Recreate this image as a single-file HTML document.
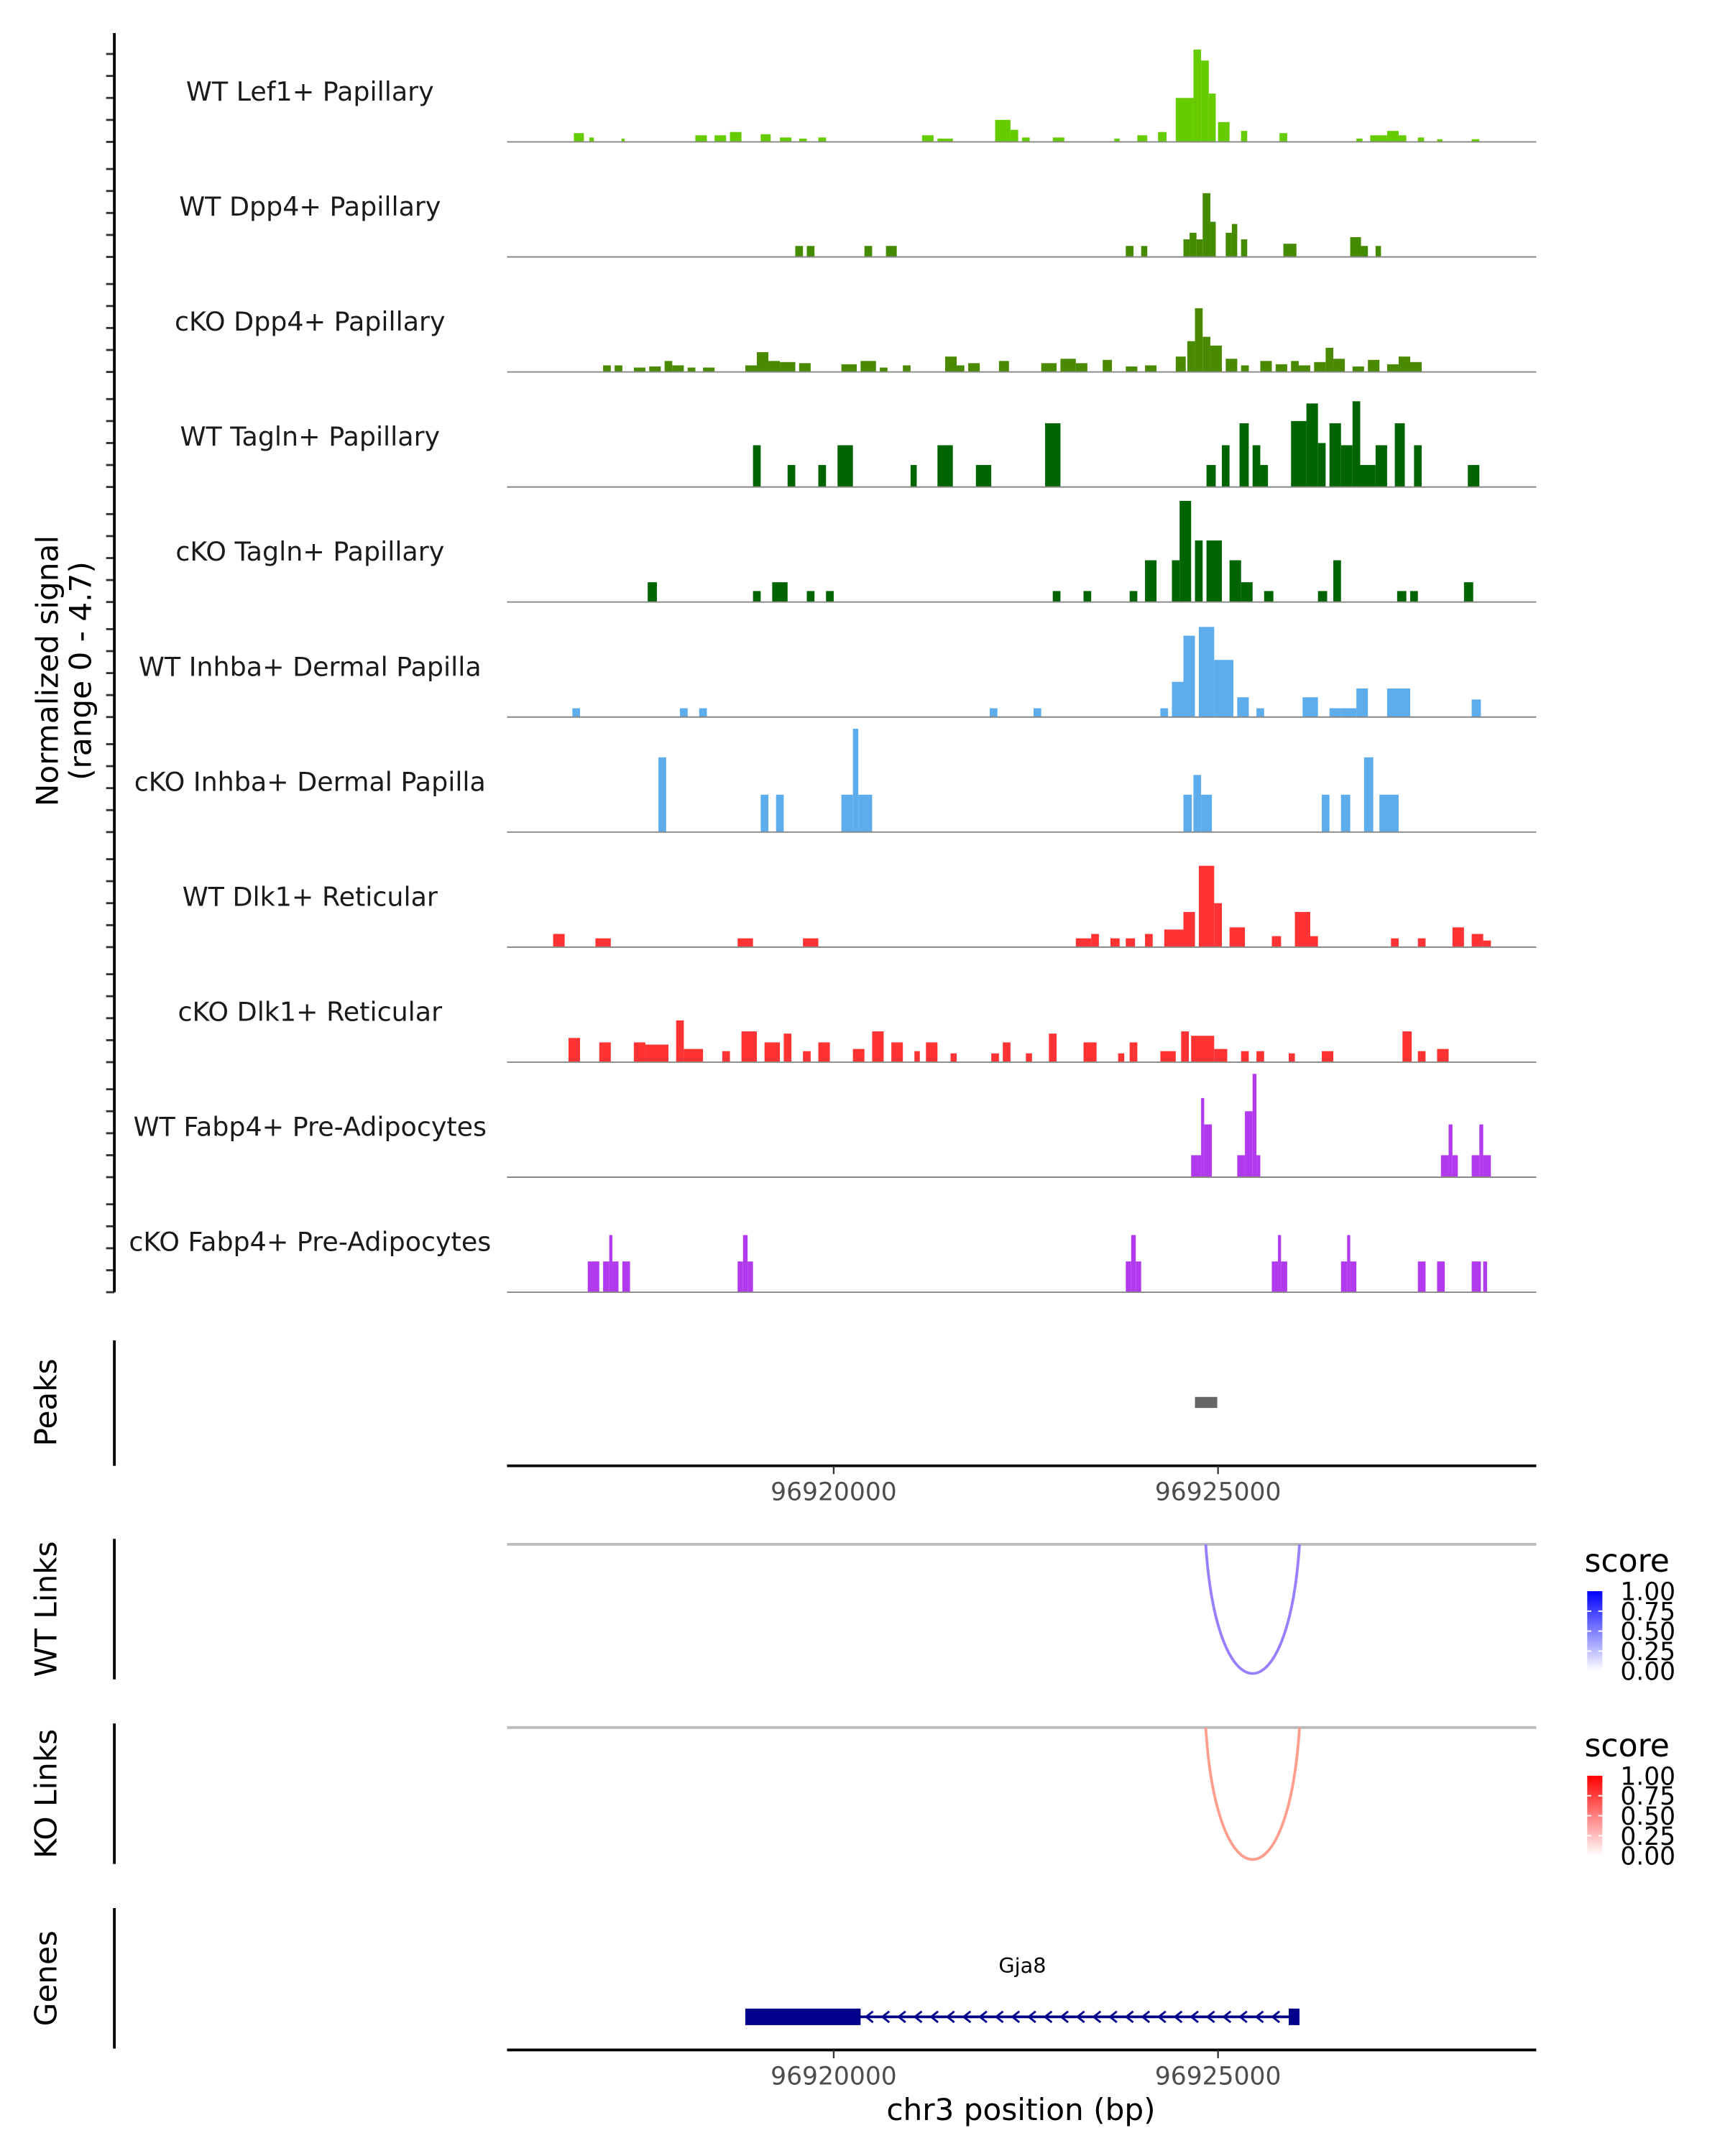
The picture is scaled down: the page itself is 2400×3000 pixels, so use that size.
<!DOCTYPE html>
<html><head><meta charset="utf-8"><style>
html,body{margin:0;padding:0;background:#fff}
svg{display:block}
text{font-family:"DejaVu Sans","Liberation Sans",sans-serif}
</style></head><body>
<svg id="chart" xmlns="http://www.w3.org/2000/svg" width="2400" height="3000" viewBox="0 0 1252 1565" preserveAspectRatio="none">
<defs>
<linearGradient id="gBlue" x1="0" y1="1" x2="0" y2="0"><stop offset="0" stop-color="#ffffff"/><stop offset="1" stop-color="#0000ff"/></linearGradient>
<linearGradient id="gRed" x1="0" y1="1" x2="0" y2="0"><stop offset="0" stop-color="#ffffff"/><stop offset="1" stop-color="#ff0000"/></linearGradient>
</defs>
<g id="tracks"></g>
<g id="frame"></g>
</svg>
<script>
// genomic positions in kb above 96,900,000
const OFFSET_KB = 96900;
const xDomain = [15.75, 29.14];
const xTicks = [20, 25];
const xTickLabels = ["96920000", "96925000"];
const yTicks = [0, 1, 2, 3, 4];
const trackNames = ["WT Lef1+ Papillary","WT Dpp4+ Papillary","cKO Dpp4+ Papillary","WT Tagln+ Papillary","cKO Tagln+ Papillary","WT Inhba+ Dermal Papilla","cKO Inhba+ Dermal Papilla","WT Dlk1+ Reticular","cKO Dlk1+ Reticular","WT Fabp4+ Pre-Adipocytes","cKO Fabp4+ Pre-Adipocytes"];
const trackColors = ["#66cc00","#458b00","#4a8a00","#006400","#006400","#5dadec","#5dadec","#ff3333","#ff3333","#b23aee","#b23aee"];
const signalMax = 4.7;
const lef1 = [[16.62,16.75,0.4],[16.82,16.88,0.2],[17.24,17.28,0.15],[18.2,18.35,0.3],[18.45,18.6,0.3],[18.65,18.8,0.45],[19.05,19.18,0.35],[19.3,19.45,0.2],[19.55,19.65,0.15],[19.8,19.9,0.2],[21.15,21.3,0.3],[21.35,21.55,0.15],[22.1,22.3,1.0],[22.3,22.4,0.55],[22.45,22.55,0.2],[22.85,23.0,0.2],[23.65,23.72,0.15],[23.95,24.08,0.3],[24.22,24.33,0.45],[24.45,24.68,2.0],[24.68,24.78,4.2],[24.78,24.88,3.7],[24.88,24.97,2.2],[25.0,25.15,0.9],[25.3,25.38,0.5],[25.8,25.9,0.4],[26.8,26.88,0.15],[26.98,27.2,0.3],[27.2,27.35,0.5],[27.35,27.45,0.3],[27.6,27.68,0.2],[27.85,27.92,0.12],[28.3,28.4,0.12]];
const wtDpp4 = [[19.5,19.6,0.5],[19.65,19.75,0.5],[20.4,20.5,0.5],[20.68,20.82,0.5],[23.8,23.9,0.5],[24.0,24.08,0.5],[24.55,24.63,0.8],[24.63,24.72,1.1],[24.72,24.8,0.8],[24.8,24.9,2.9],[24.9,24.97,1.6],[25.1,25.18,1.1],[25.18,25.25,1.5],[25.3,25.38,0.8],[25.85,26.02,0.6],[26.72,26.86,0.9],[26.86,26.95,0.5],[27.05,27.12,0.5]];
const koDpp4 = [[17.0,17.1,0.3],[17.15,17.25,0.3],[17.4,17.55,0.2],[17.6,17.75,0.25],[17.8,17.9,0.5],[17.9,18.05,0.3],[18.1,18.2,0.2],[18.3,18.45,0.2],[18.85,19.0,0.3],[19.0,19.15,0.9],[19.15,19.3,0.5],[19.3,19.5,0.45],[19.55,19.7,0.4],[20.1,20.3,0.35],[20.35,20.55,0.5],[20.6,20.7,0.2],[20.9,21.0,0.3],[21.45,21.6,0.7],[21.6,21.7,0.3],[21.75,21.9,0.4],[22.15,22.28,0.5],[22.7,22.9,0.4],[22.95,23.15,0.6],[23.15,23.3,0.4],[23.5,23.62,0.55],[23.8,23.95,0.25],[24.05,24.2,0.3],[24.45,24.58,0.7],[24.6,24.7,1.4],[24.7,24.8,2.9],[24.8,24.9,1.6],[24.9,25.05,1.2],[25.1,25.25,0.6],[25.3,25.4,0.3],[25.55,25.7,0.5],[25.75,25.9,0.35],[25.95,26.05,0.5],[26.05,26.2,0.3],[26.25,26.4,0.45],[26.4,26.5,1.1],[26.5,26.65,0.6],[26.75,26.9,0.25],[26.95,27.1,0.55],[27.2,27.35,0.35],[27.35,27.5,0.7],[27.5,27.65,0.45]];
const wtTagln = [[18.95,19.05,1.9],[19.4,19.5,1.0],[19.8,19.9,1.0],[20.05,20.25,1.9],[21.0,21.08,1.0],[21.35,21.55,1.9],[21.85,22.05,1.0],[22.75,22.95,2.9],[24.85,24.97,1.0],[25.05,25.15,1.9],[25.28,25.4,2.9],[25.45,25.55,1.9],[25.55,25.65,1.0],[25.95,26.15,3.0],[26.15,26.3,3.8],[26.3,26.4,2.0],[26.45,26.6,2.9],[26.6,26.75,1.9],[26.75,26.85,3.9],[26.85,27.05,1.0],[27.05,27.2,1.9],[27.3,27.43,2.9],[27.55,27.65,1.9],[28.25,28.4,1.0]];
const koTagln = [[17.58,17.7,0.9],[18.95,19.05,0.5],[19.2,19.4,0.9],[19.65,19.75,0.5],[19.9,20.0,0.5],[22.85,22.95,0.5],[23.25,23.35,0.5],[23.85,23.95,0.5],[24.05,24.2,1.9],[24.4,24.5,1.9],[24.5,24.65,4.6],[24.7,24.8,2.8],[24.85,25.05,2.8],[25.15,25.3,1.9],[25.3,25.45,0.9],[25.6,25.72,0.5],[26.3,26.42,0.5],[26.5,26.6,1.9],[27.33,27.45,0.5],[27.5,27.6,0.5],[28.2,28.32,0.9]];
const wtInhba = [[16.6,16.7,0.4],[18.0,18.1,0.4],[18.25,18.35,0.4],[22.03,22.13,0.4],[22.6,22.7,0.4],[24.25,24.35,0.4],[24.4,24.55,1.6],[24.55,24.7,3.7],[24.75,24.95,4.1],[24.95,25.2,2.6],[25.25,25.4,0.9],[25.5,25.6,0.4],[26.1,26.3,0.9],[26.45,26.6,0.4],[26.6,26.8,0.4],[26.8,26.95,1.3],[27.2,27.5,1.3],[28.3,28.42,0.8]];
const koInhba = [[17.72,17.82,3.4],[19.05,19.15,1.7],[19.25,19.35,1.7],[20.1,20.25,1.7],[20.25,20.32,4.7],[20.32,20.5,1.7],[24.55,24.66,1.7],[24.68,24.78,2.6],[24.78,24.92,1.7],[26.35,26.45,1.7],[26.6,26.72,1.7],[26.9,27.02,3.4],[27.1,27.35,1.7]];
const wtDlk1 = [[16.35,16.5,0.6],[16.9,17.1,0.4],[18.75,18.95,0.4],[19.6,19.8,0.4],[23.15,23.35,0.4],[23.35,23.45,0.6],[23.6,23.72,0.4],[23.8,23.92,0.4],[24.05,24.15,0.6],[24.3,24.55,0.8],[24.55,24.7,1.6],[24.75,24.95,3.7],[24.95,25.05,2.0],[25.15,25.35,0.9],[25.7,25.82,0.5],[26.0,26.2,1.6],[26.2,26.3,0.5],[27.25,27.35,0.4],[27.6,27.7,0.4],[28.05,28.2,0.9],[28.3,28.45,0.6],[28.45,28.55,0.3]];
const koDlk1 = [[16.55,16.7,1.1],[16.95,17.1,0.9],[17.4,17.55,0.9],[17.55,17.85,0.8],[17.95,18.05,1.9],[18.05,18.3,0.6],[18.55,18.65,0.5],[18.8,19.0,1.4],[19.1,19.3,0.9],[19.35,19.45,1.3],[19.6,19.7,0.5],[19.8,19.95,0.9],[20.25,20.4,0.6],[20.5,20.65,1.4],[20.75,20.9,0.9],[21.05,21.12,0.5],[21.2,21.35,0.9],[21.52,21.6,0.4],[22.05,22.15,0.4],[22.2,22.3,0.9],[22.5,22.58,0.4],[22.8,22.9,1.3],[23.25,23.42,0.9],[23.7,23.78,0.4],[23.85,23.95,0.9],[24.25,24.45,0.5],[24.52,24.62,1.4],[24.65,24.95,1.2],[24.95,25.12,0.6],[25.3,25.4,0.5],[25.5,25.6,0.5],[25.92,26.0,0.4],[26.35,26.5,0.5],[27.4,27.52,1.4],[27.6,27.7,0.5],[27.85,28.0,0.6]];
const wtFabp4 = [[24.65,24.78,1.0],[24.78,24.82,3.6],[24.82,24.92,2.4],[25.25,25.35,1.0],[25.35,25.45,3.0],[25.45,25.5,4.7],[25.5,25.55,1.0],[27.9,28.0,1.0],[28.0,28.05,2.4],[28.05,28.12,1.0],[28.3,28.4,1.0],[28.4,28.45,2.4],[28.45,28.55,1.0]];
const koFabp4 = [[16.8,16.95,1.4],[17.0,17.08,1.4],[17.08,17.12,2.6],[17.12,17.2,1.4],[17.25,17.35,1.4],[18.75,18.82,1.4],[18.82,18.88,2.6],[18.88,18.95,1.4],[23.8,23.87,1.4],[23.87,23.93,2.6],[23.93,24.0,1.4],[25.7,25.78,1.4],[25.78,25.82,2.6],[25.82,25.9,1.4],[26.6,26.68,1.4],[26.68,26.72,2.6],[26.72,26.8,1.4],[27.6,27.7,1.4],[27.85,27.95,1.4],[28.3,28.42,1.4],[28.45,28.5,1.4]];
const peakRegions = [[24.7, 24.99]];
const wtLinks = [[24.84, 26.06, 0.6]];
const koLinks = [[24.84, 26.06, 0.45]];
const geneName = "Gja8";
const geneSpan = [18.85, 26.06];
const geneExons = [[18.85, 20.35], [25.92, 26.06]];
const legendTicks = [1.00, 0.75, 0.50, 0.25, 0.00];

const trackData = [lef1, wtDpp4, koDpp4, wtTagln, koTagln, wtInhba, koInhba, wtDlk1, koDlk1, wtFabp4, koFabp4];
const NS = "http://www.w3.org/2000/svg";
const svg = document.getElementById('chart');
const X0 = 368, X1 = 1115;
function xs(kb){ return X0 + (kb - xDomain[0]) / (xDomain[1] - xDomain[0]) * (X1 - X0); }
function mk(tag, attrs, parent){ const e = document.createElementNS(NS, tag); for (const k in attrs) e.setAttribute(k, attrs[k]); (parent||svg).appendChild(e); return e; }
function txt(s, attrs, parent){ const e = mk('text', attrs, parent); e.textContent = s; return e; }

const tracksG = document.getElementById('tracks');
const F = document.getElementById('frame');
const base0 = 103, step = 83.5, trackH = 75;
function ys(v, by){ return by - v / signalMax * trackH; }
trackData.forEach((d, i) => {
  const g = mk('g', {}, tracksG);
  
  
  const by = base0 + i*step;
  d.forEach(p => {
    const r = mk('rect', {x: xs(p[0]), y: ys(p[2], by), width: Math.max(0.8, xs(p[1]) - xs(p[0])), height: by - ys(p[2], by), fill: trackColors[i]}, g);
    
    
  });
  const bl = mk('line', {x1: X0, x2: X1, y1: by, y2: by, stroke: '#888', 'stroke-width': 1}, g);
  
  
  const t = txt(trackNames[i], {x: 225, y: by - 30, 'text-anchor': 'middle', 'font-size': 19, fill: '#1a1a1a'}, g);
  
  
  yTicks.forEach(v => mk('line', {x1: 77, x2: 83, y1: ys(v, by), y2: ys(v, by), stroke: '#333', 'stroke-width': 1.5}, F));
});

mk('line', {x1: 83, x2: 83, y1: 24, y2: base0 + 10*step, stroke: '#000', 'stroke-width': 2}, F);
const yt = txt('Normalized signal', {x: 0, y: 0, 'text-anchor': 'middle', 'font-size': 22, transform: 'translate(42,487) rotate(-90)'}, F);


const yt2 = txt('(range 0 - 4.7)', {x: 0, y: 0, 'text-anchor': 'middle', 'font-size': 22, transform: 'translate(66,487) rotate(-90)'}, F);



function panelLabel(s, cy, y1, y2, name){
  mk('line', {x1: 83, x2: 83, y1: y1, y2: y2, stroke: '#000', 'stroke-width': 2}, F);
  const t = txt(s, {x: 0, y: 0, 'text-anchor': 'middle', 'font-size': 22, transform: 'translate(41,' + cy + ') rotate(-90)'}, F);
  
  
}
panelLabel('Peaks', 1018, 973, 1064, 'peaks-label');
panelLabel('WT Links', 1168, 1117, 1219, 'wt-links-label');
panelLabel('KO Links', 1302, 1251, 1353, 'ko-links-label');
panelLabel('Genes', 1436, 1385, 1487, 'genes-label');

peakRegions.forEach(p => {
  const r = mk('rect', {x: xs(p[0]), y: 1014, width: xs(p[1]) - xs(p[0]), height: 8, fill: '#666'}, F);
  
  
});

function xAxis(y, name){
  const g = mk('g', {}, F);
  
  
  mk('line', {x1: X0, x2: X1, y1: y, y2: y, stroke: '#000', 'stroke-width': 2}, g);
  xTicks.forEach((t, i) => {
    mk('line', {x1: xs(t), x2: xs(t), y1: y, y2: y + 6, stroke: '#333', 'stroke-width': 1.2}, g);
    txt(xTickLabels[i], {x: xs(t), y: y + 25, 'text-anchor': 'middle', 'font-size': 18, fill: '#4d4d4d'}, g);
  });
}
xAxis(1064, 'peaks-x-axis');
xAxis(1488, 'genes-x-axis');
const xt = txt('chr3 position (bp)', {x: 741, y: 1539, 'text-anchor': 'middle', 'font-size': 22}, F);



function scoreColor(s, rgb){
  const c = rgb.map(v => Math.round(255 + (v - 255) * s));
  return 'rgb(' + c.join(',') + ')';
}
function links(arr, y0, yb, rgb, name){
  mk('line', {x1: X0, x2: X1, y1: y0, y2: y0, stroke: '#bbb', 'stroke-width': 2}, F);
  arr.forEach(l => {
    const a = xs(l[0]), b = xs(l[1]);
    const p = mk('path', {d: 'M' + a + ',' + y0 + ' C' + (a + (b-a)*0.12) + ',' + (yb + (yb-y0)*0.33) + ' ' + (b - (b-a)*0.12) + ',' + (yb + (yb-y0)*0.33) + ' ' + b + ',' + y0, fill: 'none', stroke: scoreColor(l[2], rgb), 'stroke-width': 2}, F);
    
    
  });
}
links(wtLinks, 1121, 1215, [85, 40, 255], 'wt-link-arc');
links(koLinks, 1254, 1350, [255, 40, 0], 'ko-link-arc');

function legend(top, grad, name){
  const g = mk('g', {}, F);
  
  
  txt('score', {x: 1150, y: top - 14, 'font-size': 23}, g);
  mk('rect', {x: 1152, y: top, width: 11, height: 58, fill: 'url(#' + grad + ')'}, g);
  legendTicks.forEach(v => {
    const y = top + (1 - v) * 58;
    if (v > 0 && v < 1) { mk('line', {x1: 1152, x2: 1155, y1: y, y2: y, stroke: '#fff'}, g); mk('line', {x1: 1160, x2: 1163, y1: y, y2: y, stroke: '#fff'}, g); }
    txt(v.toFixed(2), {x: 1176, y: y + 6.5, 'font-size': 18}, g);
  });
}
legend(1155, 'gBlue', 'wt-score-legend');
legend(1289, 'gRed', 'ko-score-legend');

const gg = mk('g', {}, F);


txt(geneName, {x: xs((geneSpan[0] + geneSpan[1]) / 2), y: 1432, 'text-anchor': 'middle', 'font-size': 15}, gg);
mk('line', {x1: xs(geneSpan[0]), x2: xs(geneSpan[1]), y1: 1464, y2: 1464, stroke: '#00008b', 'stroke-width': 2}, gg);
geneExons.forEach(e => mk('rect', {x: xs(e[0]), y: 1458, width: xs(e[1]) - xs(e[0]), height: 12, fill: '#00008b'}, gg));
for (let x = xs(geneExons[0][1]) + 4; x < xs(geneExons[1][0]) - 4; x += 11.8) {
  mk('path', {d: 'M' + (x + 5) + ',1460 L' + x + ',1464 L' + (x + 5) + ',1468', fill: 'none', stroke: '#00008b', 'stroke-width': 1.5}, gg);
}
</script>
</body></html>
